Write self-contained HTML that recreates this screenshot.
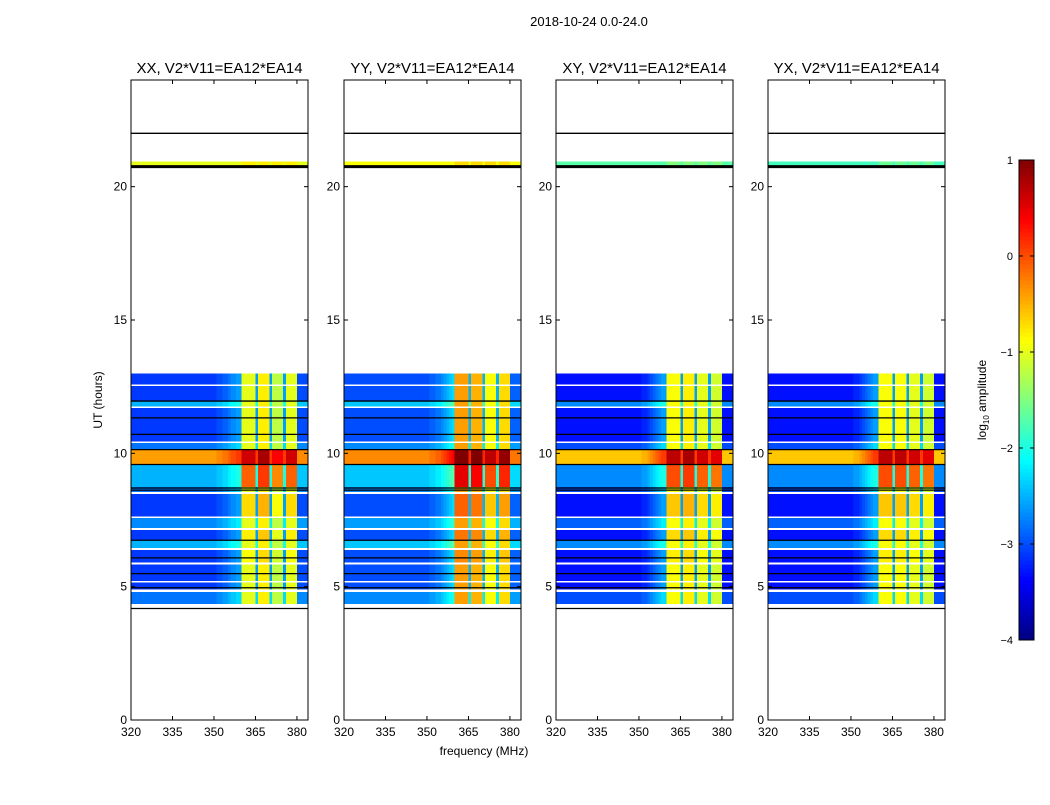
<!DOCTYPE html>
<html><head><meta charset="utf-8"><style>
body{margin:0;background:#fff;}
svg text{font-family:"Liberation Sans",sans-serif;fill:#000;}
</style></head><body>
<svg id="fig" width="1050" height="800" xmlns="http://www.w3.org/2000/svg">
<rect width="1050" height="800" fill="#fff"/>
<text x="589" y="26" font-size="13" text-anchor="middle">2018-10-24 0.0-24.0</text>
<text x="484" y="755" font-size="12" text-anchor="middle">frequency (MHz)</text>
<text transform="translate(102,400) rotate(-90)" font-size="12" text-anchor="middle">UT (hours)</text>
<g id="panels"></g>
<g id="cbar"></g>
</svg>
<script>
// ---- data ----
const panelTitles = ["XX, V2*V11=EA12*EA14","YY, V2*V11=EA12*EA14","XY, V2*V11=EA12*EA14","YX, V2*V11=EA12*EA14"];
const freqStart = 320; // MHz, 1 MHz bins
// log10 amplitude per 1-MHz column (320..383) per panel
const colXX = [-3.1,-3.1,-3.1,-3.1,-3.1,-3.1,-3.1,-3.1,-3.1,-3.1,-3.1,-3.1,-3.1,-3.1,-3.1,-3.1,-3.1,-3.1,-3.1,-3.1,-3.1,-3.1,-3.1,-3.1,-3.1,-3.1,-3.1,-3.1,-3.1,-3.1,-3.1,-3.0,-3.0,-2.9,-2.9,-2.8,-2.7,-2.7,-2.6,-2.6,-1.0,-1.0,-1.0,-1.0,-1.0,-2.6,-0.8,-0.8,-0.8,-0.8,-2.6,-1.2,-1.2,-1.2,-1.2,-2.6,-1.0,-1.0,-1.0,-1.0,-3.0,-3.0,-3.0,-3.0];
const colYY = [-3.0,-3.0,-3.0,-3.0,-3.0,-3.0,-3.0,-3.0,-3.0,-3.0,-3.0,-3.0,-3.0,-3.0,-3.0,-3.0,-3.0,-3.0,-3.0,-3.0,-3.0,-3.0,-3.0,-3.0,-3.0,-3.0,-3.0,-3.0,-3.0,-3.0,-3.0,-2.9,-2.9,-2.8,-2.8,-2.7,-2.6,-2.5,-2.4,-2.3,-0.4,-0.4,-0.4,-0.4,-0.4,-2.5,-0.5,-0.5,-0.5,-0.5,-2.5,-0.9,-0.9,-0.9,-0.9,-2.5,-0.7,-0.7,-0.7,-0.7,-2.9,-2.9,-2.9,-2.9];
const colXY = [-3.3,-3.3,-3.3,-3.3,-3.3,-3.3,-3.3,-3.3,-3.3,-3.3,-3.3,-3.3,-3.3,-3.3,-3.3,-3.3,-3.3,-3.3,-3.3,-3.3,-3.3,-3.3,-3.3,-3.3,-3.3,-3.3,-3.3,-3.3,-3.3,-3.3,-3.3,-3.2,-3.2,-3.1,-3.0,-2.9,-2.8,-2.7,-2.6,-2.6,-0.9,-0.9,-0.9,-0.9,-0.9,-2.6,-0.8,-0.8,-0.8,-0.8,-2.6,-1.0,-1.0,-1.0,-1.0,-2.6,-1.1,-1.1,-1.1,-1.1,-3.3,-3.3,-3.3,-3.3];
const colYX = [-3.3,-3.3,-3.3,-3.3,-3.3,-3.3,-3.3,-3.3,-3.3,-3.3,-3.3,-3.3,-3.3,-3.3,-3.3,-3.3,-3.3,-3.3,-3.3,-3.3,-3.3,-3.3,-3.3,-3.3,-3.3,-3.3,-3.3,-3.3,-3.3,-3.3,-3.3,-3.2,-3.2,-3.1,-3.0,-2.9,-2.8,-2.7,-2.6,-2.6,-0.9,-0.9,-0.9,-0.9,-0.9,-2.6,-0.9,-0.9,-0.9,-0.9,-2.6,-1.0,-1.0,-1.0,-1.0,-2.6,-1.1,-1.1,-1.1,-1.1,-3.3,-3.3,-3.3,-3.3];
// time rows: [start hour, end hour, off-band offset, in-band offset]
const timeRows = [[13.0,12.58,0,0],[12.52,11.96,0,0],[11.96,11.76,0.6,0],[11.70,10.45,0,0],[10.38,10.14,0.3,0],[10.14,9.6,2.7,1.6],[9.6,8.73,0.6,0.9],[8.73,8.55,0.3,0],[8.48,7.64,0,0.3],[7.58,7.2,0.4,0],[7.13,6.74,0,0.2],[6.74,6.45,0.6,0],[6.38,5.9,0,0.1],[5.84,5.22,0,0],[5.16,4.9,0,0],[4.8,4.35,0.3,0]];
// narrow band near 20.85 h, level per panel
const topBandLevel = [-1.0,-0.9,-1.7,-1.8];
const blackLines = [22.0,20.75,11.96,11.33,10.71,10.14,9.58,8.7,8.62,6.74,6.08,5.49,4.96,4.18];
const xTicks = [320,335,350,365,380];
const yTicks = [0,5,10,15,20];
const cbTicks = [1,0,-1,-2,-3,-4];

const colsAll = [colXX,colYY,colXY,colYX];
const panelLeft = [131,344,556,768];
const pw = 177, axTop = 80, axBottom = 720;
const NS = "http://www.w3.org/2000/svg";
function jet(v){let t=Math.max(0,Math.min(1,(v+4)/5));const c=x=>Math.round(255*Math.max(0,Math.min(1,1.5-Math.abs(x))));return `rgb(${c(4*t-3)},${c(4*t-2)},${c(4*t-1)})`;}
function mk(tag,attrs,parent){const e=document.createElementNS(NS,tag);for(const k in attrs)e.setAttribute(k,attrs[k]);parent.appendChild(e);return e;}
const yS = h => axBottom - h*(axBottom-axTop)/24;
const root = document.getElementById('panels');
colsAll.forEach((cols,p)=>{
  const L = panelLeft[p];
  const xS = f => L + (f-320)*pw/64;
  const g = mk('g',{},root);
  
  
  const hm = mk('g',{'shape-rendering':'crispEdges'},g);
  
  
  timeRows.forEach(r=>{
    cols.forEach((c,j)=>{
      const inBand = c > -2;
      const v = c + (inBand ? r[3] : r[2]);
      const x0 = xS(freqStart+j), x1 = xS(freqStart+j+1);
      const cell = mk('rect',{x:x0,y:yS(r[0]),width:x1-x0+0.3,height:yS(r[1])-yS(r[0]),fill:jet(v)},hm);
      
      
    });
  });
  cols.forEach((c,j)=>{
    const x0 = xS(freqStart+j), x1 = xS(freqStart+j+1);
    const cell = mk('rect',{x:x0,y:yS(20.95),width:x1-x0+0.3,height:yS(20.8)-yS(20.95),fill:jet(topBandLevel[p]+(c>-2?0.2:0))},hm);
    
    
  });
  blackLines.forEach(h=>{
    const ln = mk('line',{x1:L,x2:L+pw,y1:yS(h),y2:yS(h),stroke:'#000','stroke-width':(h===20.75?3:1.3)},g);
    
    
  });
  const fr = mk('rect',{x:L,y:axTop,width:pw,height:axBottom-axTop,fill:'none',stroke:'#000','stroke-width':1},g);
  
  
  const t = mk('text',{x:L+pw/2,y:73,'font-size':15,'text-anchor':'middle'},g);
  t.textContent = panelTitles[p];
  
  
  xTicks.forEach(f=>{
    const x = xS(f);
    mk('line',{x1:x,x2:x,y1:axBottom,y2:axBottom-4,stroke:'#000'},g);
    mk('line',{x1:x,x2:x,y1:axTop,y2:axTop+4,stroke:'#000'},g);
    const tl = mk('text',{x:x,y:axBottom+16,'font-size':12,'text-anchor':'middle'},g);
    tl.textContent = f;
    
    
  });
  yTicks.forEach(h=>{
    const y = yS(h);
    mk('line',{x1:L,x2:L+4,y1:y,y2:y,stroke:'#000'},g);
    mk('line',{x1:L+pw,x2:L+pw-4,y1:y,y2:y,stroke:'#000'},g);
    const tl = mk('text',{x:L-4,y:y+4,'font-size':12,'text-anchor':'end'},g);
    tl.textContent = h;
    
    
  });
});
// colorbar
const cb = document.getElementById('cbar');
const cbX=1019, cbW=15, cbT=160, cbB=640;
const cbY = v => cbB - (v+4)*(cbB-cbT)/5;
for(let i=0;i<120;i++){
  const v0 = -4 + 5*i/120, v1 = -4 + 5*(i+1)/120;
  mk('rect',{x:cbX,y:cbY(v1),width:cbW,height:cbY(v0)-cbY(v1)+0.5,fill:jet((v0+v1)/2),'shape-rendering':'crispEdges'},cb);
}
mk('rect',{x:cbX,y:cbT,width:cbW,height:cbB-cbT,fill:'none',stroke:'#000'},cb);
cbTicks.forEach(v=>{
  const y=cbY(v);
  mk('line',{x1:cbX,x2:cbX+4,y1:y,y2:y,stroke:'#000'},cb);
  mk('line',{x1:cbX+cbW,x2:cbX+cbW-4,y1:y,y2:y,stroke:'#000'},cb);
  const tl = mk('text',{x:1013,y:y+4,'font-size':11,'text-anchor':'end'},cb);
  tl.textContent = v<0 ? '\u2212'+(-v) : v;
  
  
});
const cl = mk('text',{transform:'translate(986,400) rotate(-90)','font-size':12,'text-anchor':'middle'},cb);
cl.innerHTML = 'log<tspan font-size="8" dy="3">10</tspan><tspan dy="-3"> amplitude</tspan>';


</script>
</body></html>
